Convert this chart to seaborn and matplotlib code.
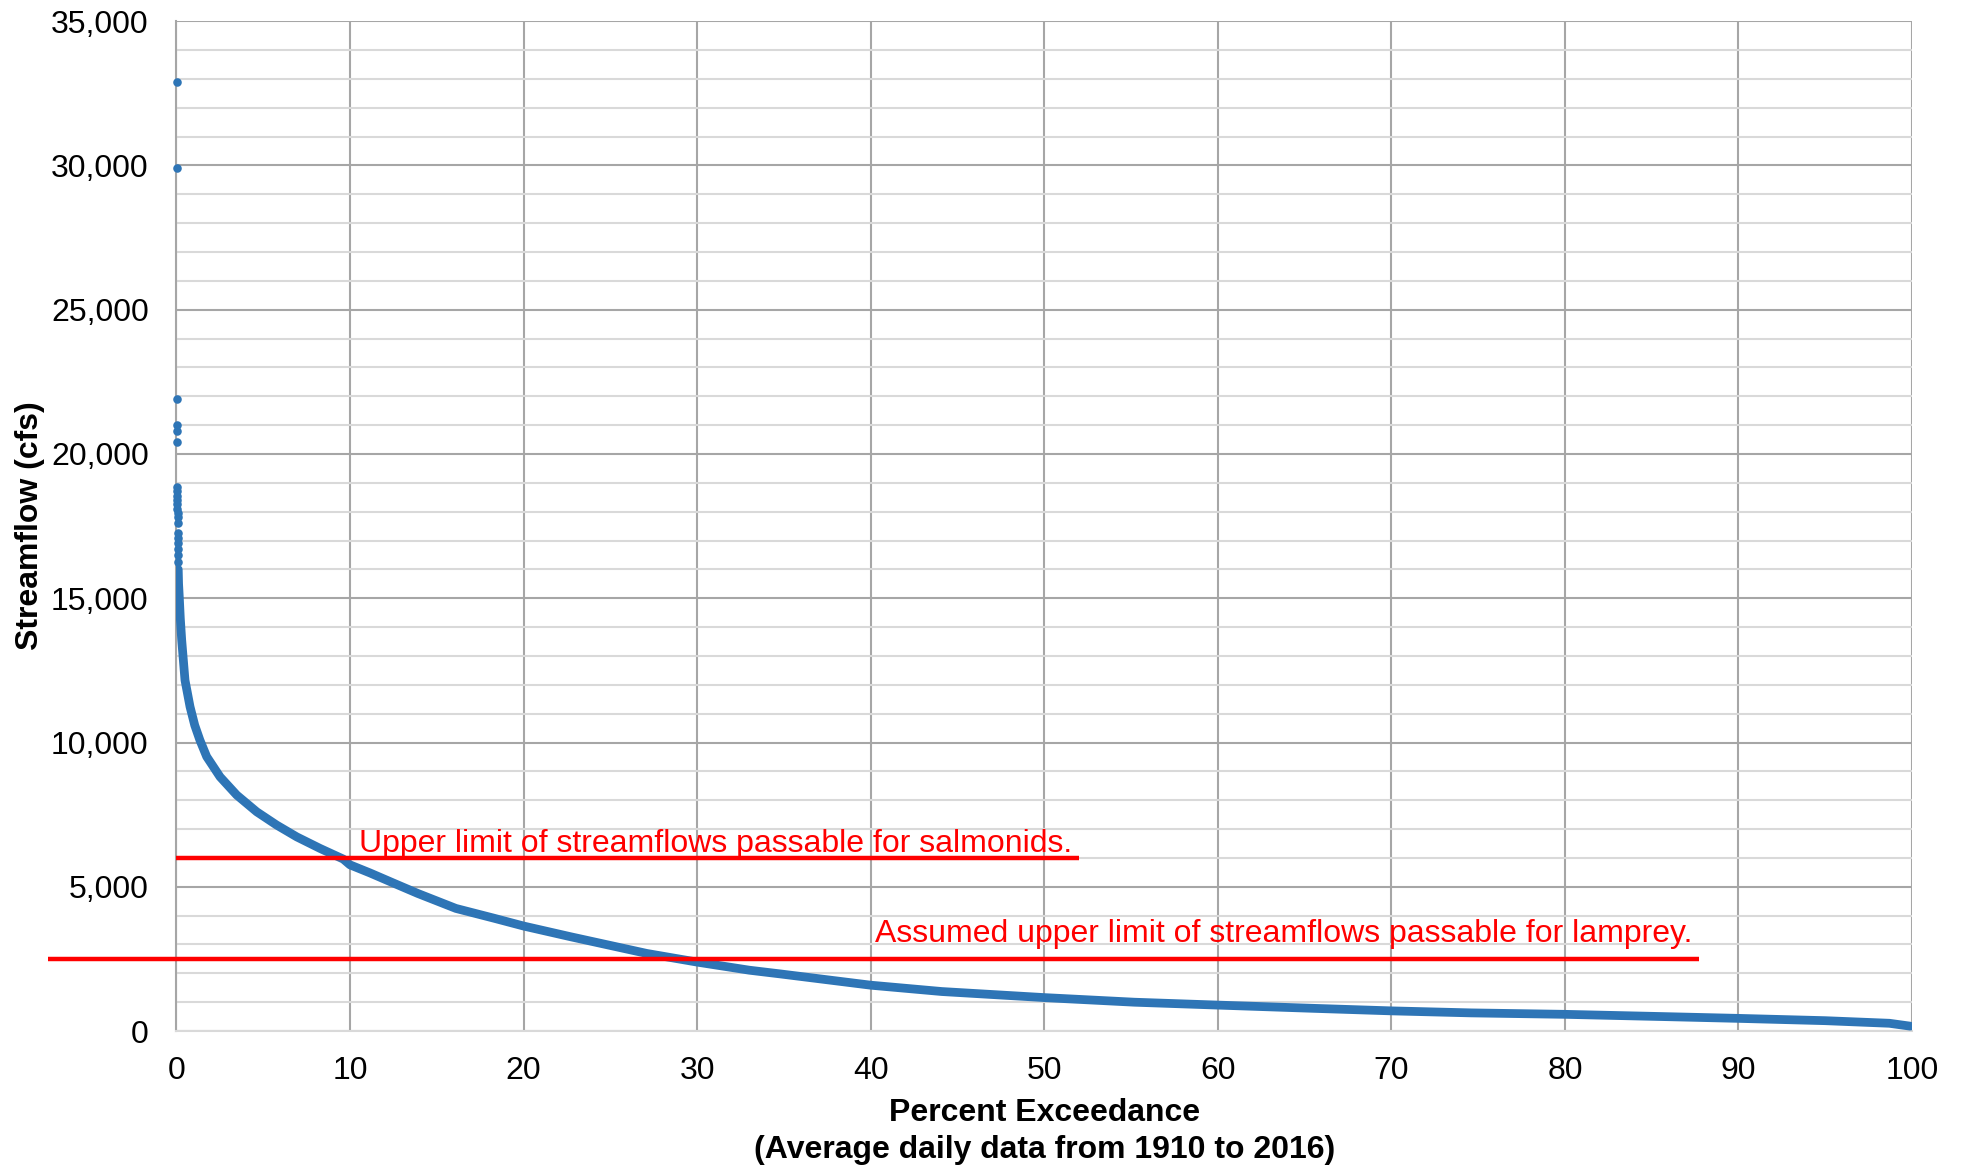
import matplotlib
matplotlib.use("Agg")
import matplotlib.pyplot as plt
from matplotlib.ticker import MultipleLocator, FuncFormatter
import seaborn as sns
import pandas as pd

# ---- data ----
outlier_pct = [0.005, 0.01, 0.012, 0.015, 0.02, 0.025, 0.03, 0.035, 0.04, 0.045,
               0.05, 0.055, 0.06, 0.065, 0.07, 0.075, 0.08, 0.085, 0.09, 0.095, 0.1]
outlier_flow = [32900, 29900, 21900, 21000, 20800, 20400, 18850, 18700, 18550, 18400,
                18250, 18100, 17950, 17800, 17600, 17250, 17100, 16900, 16700, 16500, 16250]

curve_pct = [0.10, 0.12, 0.16, 0.22, 0.30, 0.49, 0.78, 1.05, 1.35, 1.74, 2.51, 3.47,
             4.62, 5.77, 6.93, 8.27, 9.61, 10.0, 11.15, 12.5, 13.9, 16.1, 18.3, 20.0,
             22.7, 24.9, 27.1, 30.0, 33.0, 34.8, 40.0, 44.1, 50.0, 55.2, 60.0, 65.4,
             70.0, 74.6, 80.0, 85.8, 90.0, 95.0, 98.7, 99.9]
curve_flow = [16000, 15500, 15050, 14300, 13550, 12160, 11240, 10600, 10080, 9510,
              8810, 8180, 7600, 7140, 6730, 6330, 5960, 5760, 5480, 5130, 4770, 4250,
              3910, 3640, 3270, 2980, 2690, 2390, 2110, 1980, 1590, 1370, 1160, 1000,
              900, 790, 700, 630, 580, 500, 440, 360, 270, 170]

salmon_limit = 6000
salmon_line_x = [0, 52.0]
salmon_text = "Upper limit of streamflows passable for salmonids."
salmon_text_x = 10.5

lamprey_limit = 2500
lamprey_line_x = [-7.43, 87.7]
lamprey_text = "Assumed upper limit of streamflows passable for lamprey."
lamprey_text_x = 40.27

x_ticks = list(range(0, 101, 10))
y_ticks = list(range(0, 35001, 5000))
x_label = "Percent Exceedance\n(Average daily data from 1910 to 2016)"
y_label = "Streamflow (cfs)"

# ---- styling ----
sns.set_style("white")
plt.rcParams["font.family"] = ["Liberation Sans", "DejaVu Sans"]
plt.rcParams["text.color"] = "black"
plt.rcParams["axes.labelcolor"] = "black"

BLUE = "#2E75B6"
RED = "#FF0000"
MAJOR = "#A6A6A6"
MINOR = "#D9D9D9"
FS = 23

fig = plt.figure(figsize=(19.61, 11.73), dpi=100)
ax = fig.add_axes([0.0900, 0.1210, 0.8850, 0.8610])

curve_df = pd.DataFrame({"pct": curve_pct, "flow": curve_flow})
out_df = pd.DataFrame({"pct": outlier_pct, "flow": outlier_flow})

sns.lineplot(data=curve_df, x="pct", y="flow", sort=False, estimator=None,
             color=BLUE, linewidth=6.3, ax=ax, zorder=3,
             solid_capstyle="round", solid_joinstyle="round")
sns.scatterplot(data=out_df, x="pct", y="flow", color=BLUE, s=38,
                linewidth=0, ax=ax, zorder=3, clip_on=False)

ax.set_xlim(0, 100)
ax.set_ylim(0, 35000)
ax.set_xticks(x_ticks)
ax.set_yticks(y_ticks)
ax.yaxis.set_minor_locator(MultipleLocator(1000))
ax.yaxis.set_major_formatter(FuncFormatter(lambda v, p: f"{int(v):,}"))

ax.grid(which="major", axis="both", color=MAJOR, linewidth=1.5, zorder=0)
ax.grid(which="minor", axis="y", color=MINOR, linewidth=1.5, zorder=0)
ax.set_axisbelow(True)

for side in ["top", "right"]:
    ax.spines[side].set_visible(False)
ax.spines["left"].set_color(MAJOR)
ax.spines["left"].set_linewidth(1.5)
ax.spines["bottom"].set_color(MINOR)
ax.spines["bottom"].set_linewidth(1.5)

ax.tick_params(axis="both", which="both", length=0, labelsize=FS, colors="black")
ax.tick_params(axis="y", pad=20)
ax.tick_params(axis="x", pad=18)

ax.set_xlabel(x_label, fontsize=FS, fontweight="bold", linespacing=1.33)
ax.set_ylabel(y_label, fontsize=FS, fontweight="bold")
ax.xaxis.set_label_coords(0.5, -0.066)
ax.yaxis.set_label_coords(-0.076, 0.5)

# threshold lines
ax.plot(salmon_line_x, [salmon_limit, salmon_limit], color=RED, linewidth=3.2,
        zorder=4, clip_on=False, solid_capstyle="butt")
ax.plot(lamprey_line_x, [lamprey_limit, lamprey_limit], color=RED, linewidth=3.2,
        zorder=4, clip_on=False, solid_capstyle="butt")
ax.text(salmon_text_x, salmon_limit + 215, salmon_text, color=RED, fontsize=FS,
        va="baseline", ha="left", zorder=5)
ax.text(lamprey_text_x, lamprey_limit + 590, lamprey_text, color=RED, fontsize=FS,
        va="baseline", ha="left", zorder=5)

fig.savefig("out.png", dpi=100)
